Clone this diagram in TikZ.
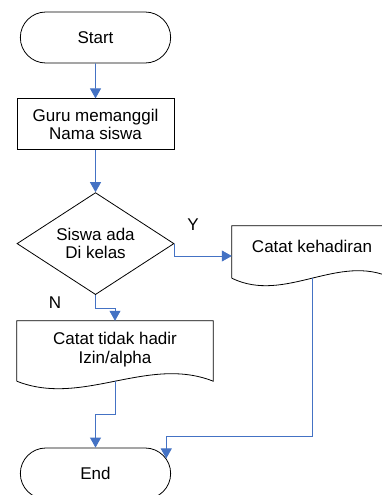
\documentclass[tikz,border=0pt]{standalone}
\usepackage{fontspec}
\setmainfont{Liberation Sans}
\usetikzlibrary{positioning,shapes.geometric,shapes.misc,arrows.meta,calc}
\definecolor{flowblue}{RGB}{68,114,196}

\tikzset{
  terminal/.style={rounded rectangle, draw, line width=.8pt, minimum width=157pt, minimum height=51pt},
  process/.style={rectangle, draw, line width=.8pt, minimum width=157pt, minimum height=51pt, align=center},
  decision/.style={diamond, draw, line width=.8pt, shape aspect=1.54, minimum width=157pt, minimum height=102pt, inner sep=0pt, align=center},
  document/.style={rectangle, align=center, inner sep=0pt},
  flow/.style={draw=flowblue, line width=.8pt, -{Triangle[width=11pt,length=10pt]}},
}

% outline of a document node with its wavy bottom
\newcommand{\docoutline}[1]{%
  \draw[line width=.8pt] (#1.south west) -- (#1.north west) -- (#1.north east) -- (#1.south east)
    .. controls ($(#1.south east)!.333!(#1.south west)+(0,-26)$) and ($(#1.south east)!.667!(#1.south west)+(0,26)$) .. (#1.south west);}

\begin{document}
\begin{tikzpicture}[x=1pt, y=-1pt, font=\fontsize{17}{18.5}\selectfont]
  \useasboundingbox (0,0) rectangle (381,495);
  \node[terminal] (start) at (95.5,37.5) {Start};
  \node[process, below=35pt of start] (guru) {Guru memanggil\\Nama siswa};
  \node[decision, below=42pt of guru] (cek) {Siswa ada\\Di kelas};
  \node[document, minimum width=160pt, minimum height=52pt, text depth=11pt] (hadir) at (312,252) {Catat kehadiran};
  \node[document, minimum width=196pt, minimum height=60pt, text depth=6pt] (tidak) at (115,351) {Catat tidak hadir\\Izin/alpha};
  \node[terminal] (stop) at (95.5,473.5) {End};
  \docoutline{hadir}
  \docoutline{tidak}
  \node (ya) at (193,225) {Y};
  \node (no) at (55,303) {N};

  \draw[flow] (start) -- (guru);
  \draw[flow] (guru) -- (cek);
  \draw[flow] (cek.east) |- ([yshift=-4pt]hadir.west);
  \draw[flow] (cek.south) -- ++(0,13) -| (tidak.north);
  \draw[flow] (tidak.south) -- ++(0,33) -| (stop.north);
  \draw[flow] (hadir.south) |- (stop.12 |- 0,436) -- (stop.12);
\end{tikzpicture}
\end{document}
